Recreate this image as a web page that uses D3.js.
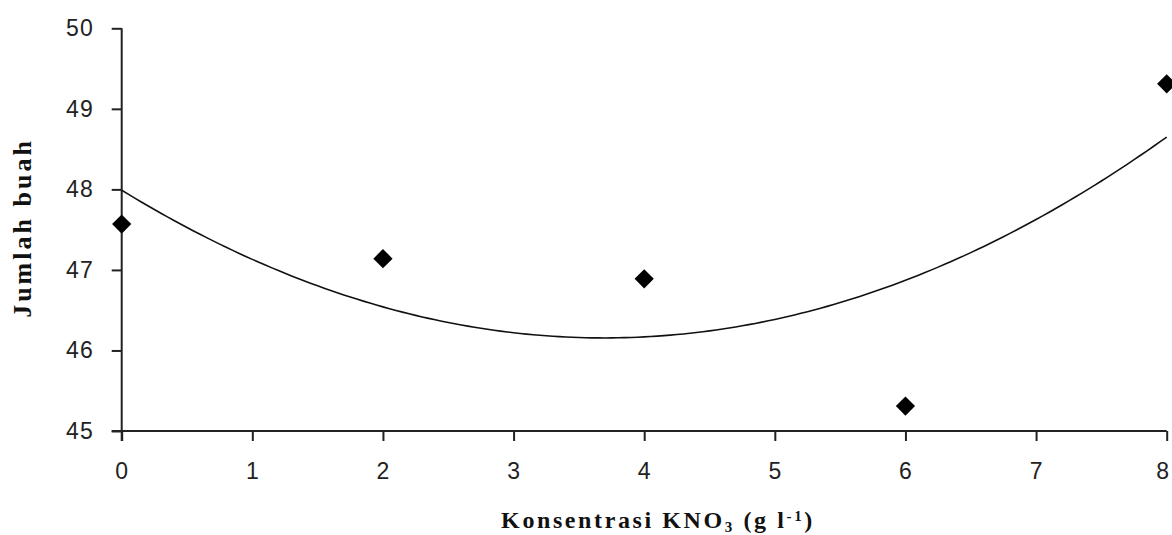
<!DOCTYPE html>
<html><head><meta charset="utf-8">
<script src="https://cdn.jsdelivr.net/npm/d3@7"></script>
<style>body{margin:0;background:#fff}svg{display:block}</style>
</head><body>
<svg id="c" width="1172" height="535"></svg>
<script>
const xValues = [0, 2, 4, 6, 8];
const yValues = [47.57, 47.14, 46.89, 45.31, 49.31];
const xTicks = [0, 1, 2, 3, 4, 5, 6, 7, 8];
const yTicks = [45, 46, 47, 48, 49, 50];
const xTitle = "Konsentrasi KNO";
const yTitle = "Jumlah buah";

const svg = d3.select("#c");
const x = d3.scaleLinear().domain([0, 8]).range([121.7, 1166.7]);
const y = d3.scaleLinear().domain([45, 50]).range([431, 28.3]);

// quadratic least-squares trendline from the data
function quadFit(xs, ys) {
  const n = xs.length;
  let S = [0,0,0,0,0], T = [0,0,0];
  for (let i = 0; i < n; i++) {
    for (let k = 0; k < 5; k++) S[k] += Math.pow(xs[i], k);
    for (let k = 0; k < 3; k++) T[k] += ys[i] * Math.pow(xs[i], k);
  }
  const A = [[S[0],S[1],S[2],T[0]],[S[1],S[2],S[3],T[1]],[S[2],S[3],S[4],T[2]]];
  for (let i = 0; i < 3; i++) {
    for (let j = i+1; j < 3; j++) {
      const f = A[j][i] / A[i][i];
      for (let k = i; k < 4; k++) A[j][k] -= f * A[i][k];
    }
  }
  const c = [0,0,0];
  for (let i = 2; i >= 0; i--) {
    let s = A[i][3];
    for (let k = i+1; k < 3; k++) s -= A[i][k] * c[k];
    c[i] = s / A[i][i];
  }
  return c;
}
const coef = quadFit(xValues, yValues);
const curve = d3.range(0, 8.0001, 0.05).map(v => [v, coef[0] + coef[1]*v + coef[2]*v*v]);

// axes
const yAxis = d3.axisLeft(y).tickValues(yTicks).tickSize(10).tickPadding(18).tickFormat(d3.format("d"));
const xAxis = d3.axisBottom(x).tickValues(xTicks).tickSize(10).tickPadding(22).tickFormat(d3.format("d"));

const gy = svg.append("g").attr("transform", `translate(${x(0)},0)`).call(yAxis);
const gx = svg.append("g").attr("transform", `translate(0,${y(45)})`).call(xAxis);
[gx, gy].forEach(g => {
  g.select(".domain").remove();
  g.selectAll("line").attr("stroke", "#222").attr("stroke-width", 2);
  g.selectAll("text").attr("font-family", "Liberation Sans, Arial, sans-serif")
    .attr("font-size", 23).attr("fill", "#222").attr("letter-spacing", 1);
});
// keep the last x label inside the frame
gx.selectAll(".tick text").filter(d => d === 8).attr("dx", -4);

// axis lines
svg.append("line").attr("x1", x(0)).attr("x2", x(0)).attr("y1", y(50)).attr("y2", y(45) + 10)
  .attr("stroke", "#222").attr("stroke-width", 2);
svg.append("line").attr("x1", x(0) - 10).attr("x2", x(8)).attr("y1", y(45)).attr("y2", y(45))
  .attr("stroke", "#222").attr("stroke-width", 2);

// trendline
svg.append("path").datum(curve)
  .attr("d", d3.line().x(d => x(d[0])).y(d => y(d[1])))
  .attr("fill", "none").attr("stroke", "#111").attr("stroke-width", 1.6);

// points
svg.selectAll(".pt").data(xValues.map((v, i) => [v, yValues[i]])).enter()
  .append("path").attr("class", "pt")
  .attr("d", d3.symbol().type(d3.symbolSquare).size(185))
  .attr("transform", d => `translate(${x(d[0])},${y(d[1])}) rotate(45)`)
  .attr("fill", "#000");

// titles
const xt = svg.append("text").attr("x", 658).attr("y", 528).attr("text-anchor", "middle")
  .attr("font-family", "Liberation Serif, Times New Roman, serif").attr("font-weight", "bold")
  .attr("font-size", 24).attr("letter-spacing", 2.6).attr("fill", "#111");
xt.append("tspan").text(xTitle);
xt.append("tspan").text("3").attr("font-size", 15).attr("dy", 4);
xt.append("tspan").text(" (g l").attr("dy", -4);
xt.append("tspan").text("-1").attr("font-size", 15).attr("dy", -7);
xt.append("tspan").text(")").attr("dy", 7);

svg.append("text").attr("transform", "translate(31,228) rotate(-90)").attr("text-anchor", "middle")
  .attr("font-family", "Liberation Serif, Times New Roman, serif").attr("font-weight", "bold")
  .attr("font-size", 26).attr("letter-spacing", 3).attr("fill", "#111").text(yTitle);
</script>
</body></html>
